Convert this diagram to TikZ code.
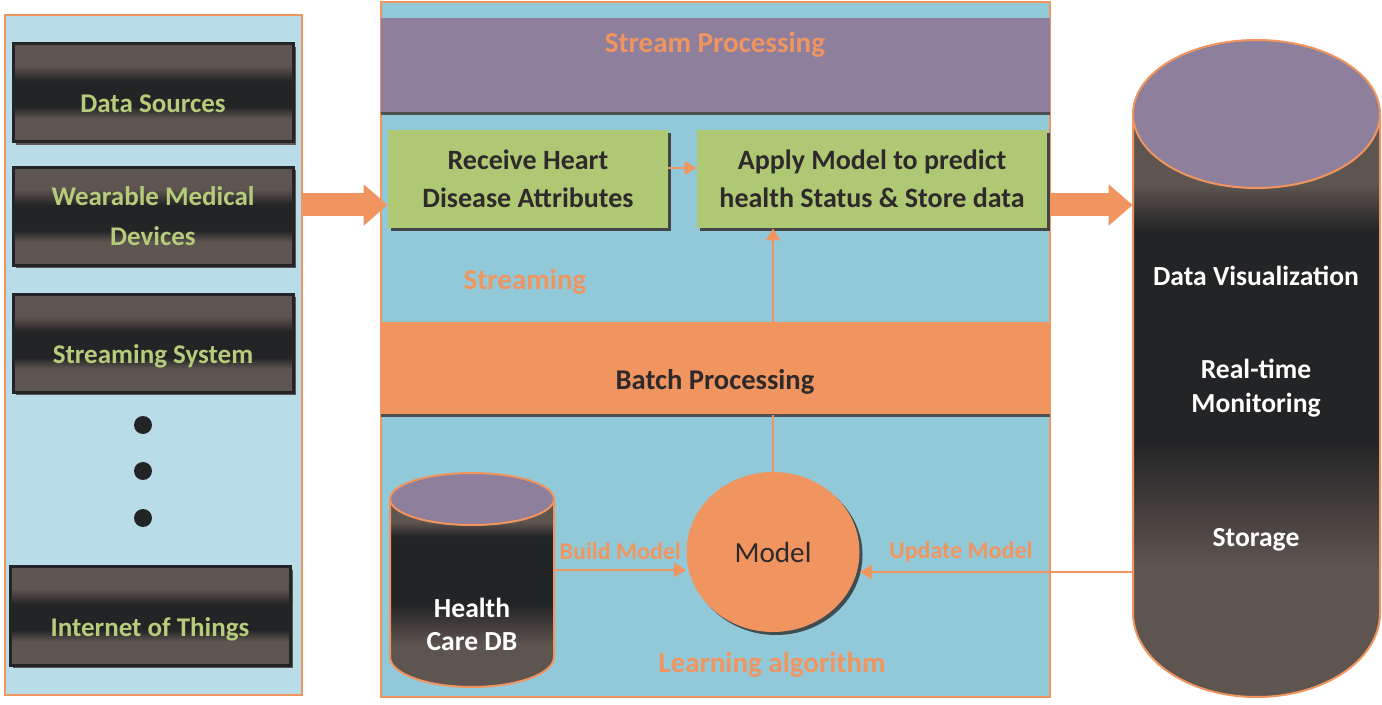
\documentclass[tikz,border=0pt]{standalone}
\usepackage{fontspec}
\setmainfont{Carlito}
\usetikzlibrary{arrows.meta,shadows,shapes.geometric,positioning}

\definecolor{orangeC}{HTML}{F0955F}
\definecolor{paleblue}{HTML}{B8DDE8}
\definecolor{midblue}{HTML}{92C9D9}
\definecolor{streampurple}{HTML}{8E7F9C}
\definecolor{boxgreen}{HTML}{AFC874}
\definecolor{darkC}{HTML}{232426}
\definecolor{brownC}{HTML}{5F5550}
\definecolor{srctext}{HTML}{B5CC7A}
\definecolor{labeldark}{HTML}{2E2A2C}

% banded shadings for the dark boxes and the cylinders (visible part is 25bp--75bp)
\pgfdeclareverticalshading{srcshade}{100bp}{color(0bp)=(brownC); color(37bp)=(brownC); color(43bp)=(darkC);
  color(56bp)=(darkC); color(64bp)=(brownC); color(100bp)=(brownC)}
\pgfdeclareverticalshading{cylshade}{100bp}{color(0bp)=(brownC); color(36bp)=(brownC); color(47bp)=(darkC);
  color(65bp)=(darkC); color(69bp)=(brownC); color(100bp)=(brownC)}

\tikzset{
  panel/.style={draw=orangeC, line width=1.2pt, inner sep=0pt},
  band/.style={minimum width=334.5pt, inner sep=0pt},
  srcbox/.style={draw=darkC, line width=1.5pt, shading=srcshade,
    minimum width=140pt, minimum height=49pt, inner sep=0pt, align=center, text=srctext,
    font=\fontsize{13.5}{20}\selectfont\bfseries,
    drop shadow={shadow xshift=1.5pt, shadow yshift=-1.5pt, fill=brownC, opacity=1}},
  lowtext/.style={text height=20pt, text depth=0pt},
  procbox/.style={fill=boxgreen, minimum height=49pt, inner sep=0pt, align=center, text=labeldark,
    font=\fontsize{14}{19}\selectfont\bfseries,
    drop shadow={shadow xshift=1.5pt, shadow yshift=-1.5pt, fill=darkC!85, opacity=1}},
  orangelbl/.style={text=orangeC, font=\fontsize{14.5}{17}\selectfont\bfseries},
  cyltext/.style={text=white, align=center, font=\fontsize{13.8}{17}\selectfont\bfseries},
  bigarrow/.style={draw=orangeC, line width=11.5pt, -{Triangle[length=12pt,width=20pt]}},
  smallarrow/.style={draw=orangeC, line width=1.2pt, -{Triangle[length=6pt,width=7pt]}},
  arrowlbl/.style={text=orangeC, font=\fontsize{12}{14}\selectfont\bfseries},
}

\begin{document}
\begin{tikzpicture}[x=0.5pt,y=-0.5pt]
\useasboundingbox (0,0) rectangle (1382,705);

% Data sources panel
\node[panel, fill=paleblue, minimum width=148.5pt, minimum height=340pt] (sources) at (153.5,355) {};
\node[srcbox, lowtext] (datasrc) at (153,93) {Data Sources};
\node[srcbox] (wear) at (153,216.5) {Wearable Medical\\Devices};
\node[srcbox, lowtext] (streamsys) at (153,343.5) {Streaming System};
\node[srcbox, lowtext] (iot) at (150,616) {Internet of Things};
\foreach \y in {425,471,518} {
    \fill[darkC] (143,\y) circle (4.5pt);
}

% Processing panel
\node[panel, fill=midblue, minimum width=334.5pt, minimum height=347.5pt] (proc) at (715.5,349.5) {};
\node[band, fill=streampurple, minimum height=47.5pt] (stream) at (715.5,65.5) {};
\draw[darkC!80, line width=1.5pt] (stream.south west) -- (stream.south east);
\node[orangelbl] (streamlbl) at (715,45) {Stream Processing};
\node[procbox, minimum width=140pt] (recv) at (528,179) {Receive Heart\\Disease Attributes};
\node[procbox, minimum width=175pt] (apply) at (872,179) {Apply Model to predict\\health Status \& Store data};
\node[orangelbl] (streaminglbl) at (525,282) {Streaming};
\node[band, fill=orangeC, minimum height=46.5pt] (batch) at (715.5,368.5) {};
\draw[darkC!80, line width=1.5pt] (batch.south west) -- (batch.south east);
\node[text=labeldark, font=\fontsize{14.3}{17}\selectfont\bfseries] (batchlbl) at (715,382) {Batch Processing};
\node[orangelbl] (learnlbl) at (772,665) {Learning algorithm};

% Model
\node[ellipse, fill=orangeC, minimum width=86.5pt, minimum height=80pt, inner sep=0pt,
      text=labeldark, font=\fontsize{14.6}{17}\selectfont,
      drop shadow={shadow xshift=1.5pt, shadow yshift=-1.5pt, fill=darkC!75!midblue, opacity=1}] (model) at (773,552) {Model};

% Health care database
\shade[shading=cylshade] (390,499) -- (390,657)
    arc[start angle=180, end angle=360, x radius=41pt, y radius=15pt] -- (554,499) -- cycle;
\draw[orangeC, line width=1pt] (390,499) -- (390,657)
    arc[start angle=180, end angle=360, x radius=41pt, y radius=15pt] -- (554,499);
\filldraw[fill=streampurple, draw=orangeC, line width=1pt] (472,499) ellipse [x radius=41pt, y radius=13pt];
\node[minimum width=82pt, minimum height=107pt, inner sep=0pt] (db) at (472,580) {};
\node[cyltext, font=\fontsize{13.8}{16.5}\selectfont\bfseries] (dbtxt) at (472,624) {Health\\Care DB};

% Storage cylinder
\shade[shading=cylshade] (1133,114) -- (1133,613)
    arc[start angle=180, end angle=360, x radius=61.75pt, y radius=42pt] -- (1380,114) -- cycle;
\draw[orangeC, line width=1pt] (1133,114) -- (1133,613)
    arc[start angle=180, end angle=360, x radius=61.75pt, y radius=42pt] -- (1380,114);
\filldraw[fill=streampurple, draw=orangeC, line width=1pt] (1256.5,114) ellipse [x radius=61.75pt, y radius=37pt];
\node[minimum width=123.5pt, minimum height=330pt, inner sep=0pt] (store) at (1256.5,370) {};
\node[cyltext] (vis) at (1256,276) {Data Visualization};
\node[cyltext] (monitor) at (1256,388) {Real-time\\Monitoring};
\node[cyltext] (storage) at (1256,540) {Storage};

% Connectors
\coordinate (recvin) at ([yshift=-13pt]recv.west);
\coordinate (applyout) at ([yshift=-13pt]apply.east);
\draw[bigarrow] (sources.east |- recvin) -- (recvin);
\draw[bigarrow] (proc.east |- applyout) -- (store.west |- applyout);
\draw[smallarrow] ([yshift=5.5pt]recv.east) -- ([yshift=5.5pt]apply.west);
\draw[smallarrow] (batch.north -| model) -- (apply.south -| model);
\draw[orangeC, line width=1.2pt] (model.north) -- (batch.south -| model);
\coordinate (dbout) at ([yshift=5pt]db.east);
\draw[smallarrow] (dbout) -- (dbout -| model.west)
    node[midway, above=1pt, arrowlbl] {Build Model};
\coordinate (updin) at ([yshift=-10pt]model.east);
\draw[smallarrow] (store.west |- updin) -- (updin)
    node[pos=0.63, above=1pt, arrowlbl] {Update Model};
\end{tikzpicture}
\end{document}
